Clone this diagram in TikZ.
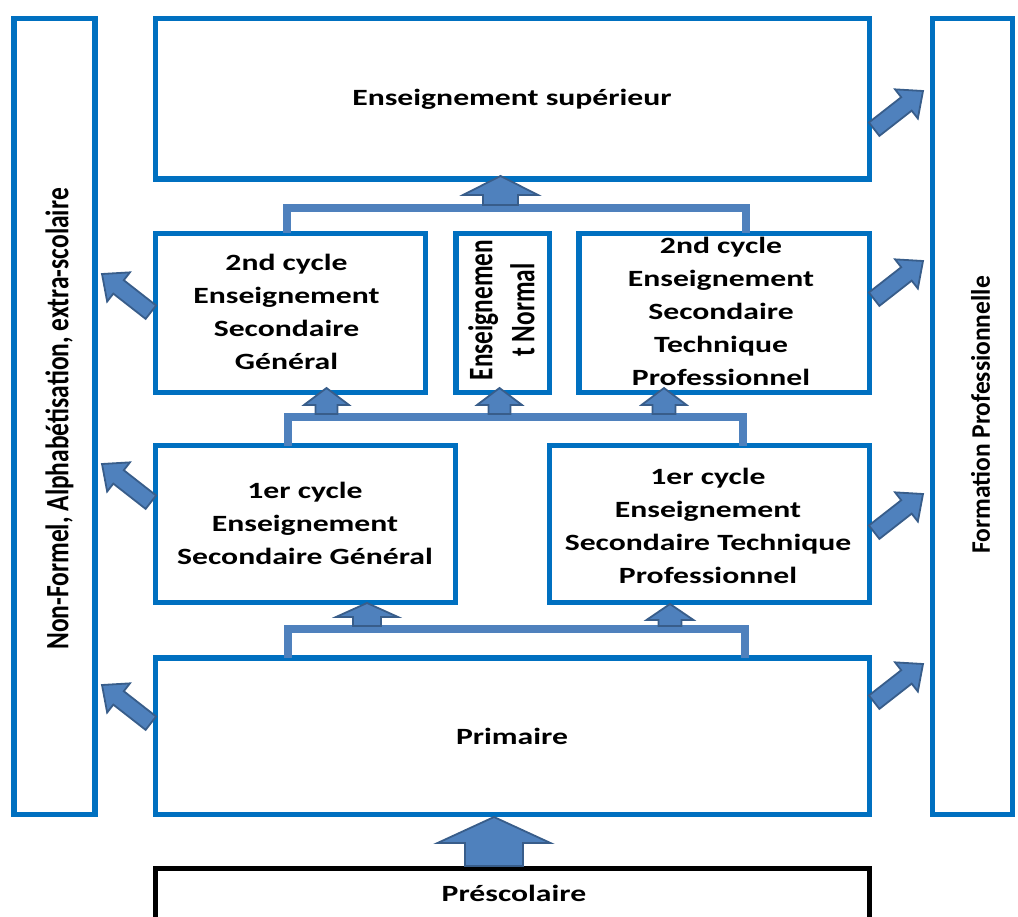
\documentclass[tikz,border=0pt]{standalone}
\usepackage{fontspec}
\setmainfont{Carlito}
\usepackage{graphicx}
\definecolor{boxblue}{HTML}{0070C0}
\definecolor{arrfill}{HTML}{4F81BD}
\definecolor{arrline}{HTML}{385D8A}
\definecolor{barcol}{HTML}{4F81BD}
\tikzset{
 box/.style={draw=boxblue, line width=5.5pt, inner sep=0pt, outer sep=0pt},
 blackbox/.style={draw=black, line width=5.5pt, inner sep=0pt, outer sep=0pt},
 lbl/.style={font=\fontsize{23.3}{33}\selectfont\bfseries, inner sep=0pt},
 vlbl/.style={font=\fontsize{25.5}{31}\selectfont\bfseries, inner sep=0pt},
 bar/.style={draw=barcol, line width=8pt, line join=miter},
 blockarr/.style={fill=arrfill, draw=arrline, line width=1.8pt, line join=miter},
}
\newcommand\hs[1]{\scalebox{1.36}[1]{\begin{tabular}{@{}c@{}}#1\end{tabular}}}
\newcommand\vs[2]{\scalebox{#1}[1]{\rotatebox{90}{#2}}}
% up block arrow: cx, tip y, head base y, bottom y, half head w, half body w
\newcommand\upblock[6]{\filldraw[blockarr] (#1,#2) -- (#1+#5,#3) -- (#1+#6,#3) -- (#1+#6,#4) -- (#1-#6,#4) -- (#1-#6,#3) -- (#1-#5,#3) -- cycle;}
% diagonal block arrow: tip x, tip y, angle
\newcommand\diagblock[3]{\begin{scope}[shift={(#1,#2)}, rotate=#3]
 \filldraw[blockarr] (0,0) -- (-21,-18.5) -- (-21,-8.5) -- (-62,-8.5) -- (-62,8.5) -- (-21,8.5) -- (-21,18.5) -- cycle;
 \end{scope}}
\begin{document}
\begin{tikzpicture}[x=1pt,y=-1pt]
\useasboundingbox (0,0) rectangle (1018,917);
% boxes
\node[box, minimum width=714pt, minimum height=160.5pt] (sup) at (512.5,98.75) {};
\node[box, minimum width=81pt, minimum height=796pt] (nf) at (54.5,416.5) {};
\node[box, minimum width=80pt, minimum height=796pt] (fp) at (972.5,416.5) {};
\node[box, minimum width=270pt, minimum height=159pt] (g2) at (290.5,313) {};
\node[box, minimum width=93.5pt, minimum height=159pt] (nm) at (502.75,313) {};
\node[box, minimum width=290.5pt, minimum height=159pt] (t2) at (724.25,313) {};
\node[box, minimum width=300pt, minimum height=157pt] (g1) at (305.5,524) {};
\node[box, minimum width=320pt, minimum height=157pt] (t1) at (709.5,524) {};
\node[box, minimum width=714pt, minimum height=156.5pt] (pr) at (512.5,736.25) {};
\node[blackbox, minimum width=714pt, minimum height=80pt] (ps) at (512.5,908.5) {};
% labels
\node[lbl] (tsup) at (512,99) {\hs{Enseignement supérieur}};
\node[lbl] (tg2) at (286.5,313) {\hs{2nd cycle\\Enseignement\\Secondaire\\Général}};
\node[font=\fontsize{25.3}{30.9}\selectfont\bfseries, inner sep=0pt] (tnm) at (505,310) {\vs{1.36}{\begin{tabular}{@{}c@{}}Enseignemen\\t Normal\end{tabular}}};
\node[lbl] (tt2) at (721,313) {\hs{2nd cycle\\Enseignement\\Secondaire\\Technique\\Professionnel}};
\node[lbl] (tg1) at (305,525) {\hs{1er cycle\\Enseignement\\Secondaire Général}};
\node[lbl] (tt1) at (708,527) {\hs{1er cycle\\Enseignement\\Secondaire Technique\\Professionnel}};
\node[lbl] (tpr) at (512,738) {\hs{Primaire}};
\node[lbl] (tps) at (514,895) {\hs{Préscolaire}};
\node[vlbl] (tnf) at (59.5,419) {\vs{1.28}{Non-Formel, Alphabétisation, extra-scolaire}};
\node[vlbl] (tfp) at (980.5,415) {\vs{1.05}{Formation Professionnelle}};
% connector bars
\coordinate (b1l) at (286.5,208.5); \coordinate (b1r) at (746,208.5);
\coordinate (b2l) at (288,417); \coordinate (b2r) at (743,417);
\coordinate (b3l) at (288,629); \coordinate (b3r) at (745,629);
\draw[bar] (b1l |- g2.north) -- (b1l) -- (b1r) -- (b1r |- t2.north);
\draw[bar] (b2l |- g1.north) -- (b2l) -- (b2r) -- (b2r |- t1.north);
\draw[bar] (b3l |- pr.north) -- (b3l) -- (b3r) -- (b3r |- pr.north);
% up block arrows
\upblock{500.5}{176}{195}{205}{37.5}{17.5}
\upblock{326.5}{388}{405}{414}{22.5}{11}
\upblock{499.5}{388}{405}{414}{22.5}{11}
\upblock{664}{388}{405}{414}{22.5}{11.5}
\upblock{367}{603}{617}{626}{31}{14}
\upblock{670}{604}{620}{626}{23.5}{11.5}
\upblock{494}{817}{843}{866}{56.5}{29}
% side arrows
\diagblock{923}{91}{38}
\diagblock{923}{261}{38}
\diagblock{923}{494}{38}
\diagblock{923}{664}{38}
\diagblock{102}{274}{142}
\diagblock{102}{464}{142}
\diagblock{102}{685}{142}
\end{tikzpicture}
\end{document}
